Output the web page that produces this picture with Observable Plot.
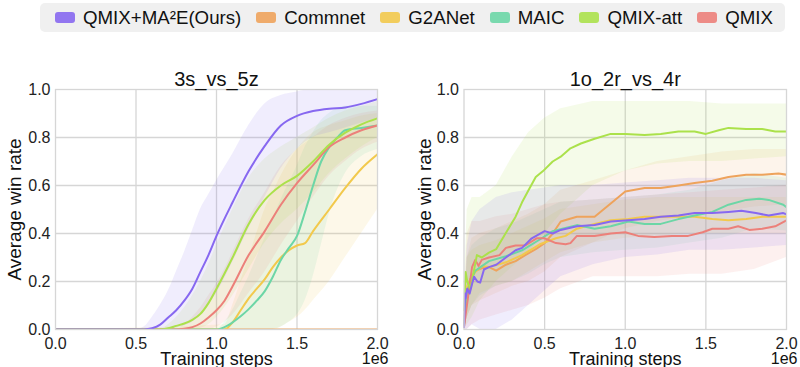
<!DOCTYPE html>
<html><head><meta charset="utf-8">
<script src="https://cdn.jsdelivr.net/npm/d3@7"></script>
<script src="https://cdn.jsdelivr.net/npm/@observablehq/plot@0.6"></script>
<style>
html,body{margin:0;padding:0;background:#fff;}
#wrap{position:relative;width:800px;height:367px;overflow:hidden;font-family:"Liberation Sans",Arial,sans-serif;}
#legend{position:absolute;left:40px;top:3px;width:745px;height:29px;background:#f0f0f0;border-radius:5px;display:flex;align-items:center;justify-content:space-between;box-sizing:border-box;padding-left:15px;padding-right:12px;font-size:18.7px;color:#111;white-space:nowrap;}
.item{display:flex;align-items:center;}
.sw{width:20px;height:11px;border-radius:3px;margin-right:8px;}
.panel{position:absolute;top:40px;}
.panel svg{overflow:visible;}
</style></head><body>
<div id="wrap"><div id="legend"></div><div id="p0" class="panel" style="left:0px"></div><div id="p1" class="panel" style="left:400px"></div></div>
<script>
// ---- legend / series ----
const seriesNames = ["QMIX+MA²E(Ours)", "Commnet", "G2ANet", "MAIC", "QMIX-att", "QMIX"];
const seriesColors = ["#8768f0", "#eea35c", "#f2c94c", "#6cd6a6", "#abe14b", "#ec807a"];
const drawOrder = ["Commnet", "G2ANet", "MAIC", "QMIX", "QMIX-att", "QMIX+MA²E(Ours)"];
const xTicks = [0, 0.5, 1.0, 1.5, 2.0];
const yTicks = [0, 0.2, 0.4, 0.6, 0.8, 1.0];
const panelTitles = ["3s_vs_5z", "1o_2r_vs_4r"];

// ---- 3s_vs_5z (steps in 1e6) ----
const s5z_ma2e_x    = [0, 0.5, 0.55, 0.6, 0.65, 0.7, 0.75, 0.8, 0.85, 0.9, 0.95, 1.0, 1.1, 1.2, 1.3, 1.4, 1.5, 1.6, 1.7, 1.8, 1.9, 2.0];
const s5z_ma2e_mean = [0, 0, 0, 0.005, 0.02, 0.05, 0.08, 0.12, 0.17, 0.24, 0.31, 0.39, 0.53, 0.66, 0.765, 0.85, 0.89, 0.91, 0.92, 0.925, 0.94, 0.96];
const s5z_ma2e_lo   = [0, 0, 0, 0, 0, 0, 0.005, 0.015, 0.03, 0.06, 0.1, 0.15, 0.28, 0.42, 0.55, 0.67, 0.75, 0.8, 0.82, 0.84, 0.86, 0.88];
const s5z_ma2e_hi   = [0, 0, 0.01, 0.05, 0.1, 0.16, 0.24, 0.32, 0.41, 0.5, 0.56, 0.62, 0.73, 0.85, 0.94, 0.975, 0.99, 1.0, 1.0, 1.0, 1.0, 1.0];

const s5z_att_x    = [0, 0.65, 0.7, 0.75, 0.8, 0.85, 0.9, 0.95, 1.0, 1.1, 1.2, 1.3, 1.4, 1.5, 1.6, 1.7, 1.8, 1.9, 2.0];
const s5z_att_mean = [0, 0, 0.005, 0.015, 0.025, 0.04, 0.065, 0.11, 0.17, 0.3, 0.44, 0.54, 0.6, 0.64, 0.7, 0.77, 0.82, 0.855, 0.88];
const s5z_att_lo   = [0, 0, 0, 0, 0, 0, 0.005, 0.02, 0.05, 0.14, 0.25, 0.36, 0.44, 0.5, 0.57, 0.65, 0.71, 0.76, 0.8];
const s5z_att_hi   = [0, 0, 0.02, 0.05, 0.09, 0.14, 0.2, 0.27, 0.35, 0.5, 0.63, 0.71, 0.76, 0.8, 0.84, 0.88, 0.91, 0.93, 0.95];

const s5z_qmix_x    = [0, 0.75, 0.8, 0.85, 0.9, 0.95, 1.0, 1.05, 1.1, 1.2, 1.3, 1.4, 1.5, 1.6, 1.7, 1.8, 1.9, 2.0];
const s5z_qmix_mean = [0, 0, 0.003, 0.01, 0.025, 0.05, 0.08, 0.12, 0.18, 0.31, 0.41, 0.52, 0.61, 0.685, 0.76, 0.8, 0.83, 0.85];
const s5z_qmix_lo   = [0, 0, 0, 0, 0, 0, 0.01, 0.03, 0.06, 0.15, 0.24, 0.35, 0.45, 0.55, 0.64, 0.7, 0.75, 0.78];
const s5z_qmix_hi   = [0, 0, 0.02, 0.05, 0.09, 0.14, 0.19, 0.25, 0.32, 0.46, 0.57, 0.68, 0.75, 0.8, 0.85, 0.88, 0.9, 0.91];

const s5z_maic_x    = [0, 1.0, 1.05, 1.1, 1.15, 1.2, 1.25, 1.3, 1.35, 1.4, 1.45, 1.5, 1.55, 1.6, 1.65, 1.7, 1.75, 1.8, 1.9, 2.0];
const s5z_maic_mean = [0, 0, 0.01, 0.03, 0.055, 0.085, 0.12, 0.16, 0.22, 0.29, 0.34, 0.39, 0.49, 0.6, 0.7, 0.76, 0.8, 0.83, 0.84, 0.85];
const s5z_maic_lo   = [0, 0, 0, 0, 0, 0, 0, 0, 0, 0.01, 0.03, 0.06, 0.12, 0.22, 0.35, 0.48, 0.58, 0.65, 0.72, 0.75];
const s5z_maic_hi   = [0, 0, 0.03, 0.08, 0.15, 0.22, 0.3, 0.38, 0.46, 0.54, 0.61, 0.68, 0.76, 0.82, 0.87, 0.9, 0.92, 0.93, 0.93, 0.93];

const s5z_g2a_x    = [0, 1.05, 1.1, 1.15, 1.2, 1.25, 1.3, 1.35, 1.4, 1.45, 1.5, 1.55, 1.6, 1.7, 1.8, 1.9, 2.0];
const s5z_g2a_mean = [0, 0, 0.03, 0.08, 0.13, 0.17, 0.21, 0.26, 0.3, 0.33, 0.35, 0.36, 0.41, 0.5, 0.59, 0.67, 0.73];
const s5z_g2a_lo   = [0, 0, 0, 0, 0, 0, 0, 0, 0.01, 0.03, 0.05, 0.08, 0.12, 0.2, 0.3, 0.4, 0.5];
const s5z_g2a_hi   = [0, 0.02, 0.1, 0.2, 0.3, 0.4, 0.5, 0.57, 0.64, 0.7, 0.75, 0.79, 0.82, 0.85, 0.87, 0.89, 0.9];

const s5z_comm_x    = [0, 2.0];
const s5z_comm_mean = [0, 0];
const s5z_comm_lo   = [0, 0];
const s5z_comm_hi   = [0, 0];

// ---- 1o_2r_vs_4r (steps in 1e6) ----
const r4_band_x = [0, 0.02, 0.05, 0.1, 0.2, 0.3, 0.4, 0.5, 0.6, 0.8, 1.0, 1.2, 1.4, 1.6, 1.8, 2.0];

const r4_ma2e_x    = [0, 0.003, 0.007, 0.01, 0.02, 0.035, 0.05, 0.062, 0.083, 0.1, 0.124, 0.155, 0.2, 0.26, 0.32, 0.36, 0.42, 0.5, 0.55, 0.6, 0.7, 0.81, 0.91, 1.02, 1.12, 1.22, 1.33, 1.43, 1.54, 1.64, 1.72, 1.81, 1.89, 1.98, 2.0];
const r4_ma2e_mean = [0.01, 0.08, 0.15, 0.13, 0.17, 0.15, 0.19, 0.22, 0.2, 0.195, 0.25, 0.26, 0.27, 0.3, 0.33, 0.34, 0.38, 0.41, 0.4, 0.415, 0.43, 0.435, 0.45, 0.455, 0.46, 0.47, 0.475, 0.485, 0.485, 0.49, 0.495, 0.485, 0.475, 0.485, 0.48];
const r4_ma2e_lo   = [0, 0, 0.02, 0, 0, 0.04, 0.1, 0.16, 0.22, 0.27, 0.3, 0.31, 0.33, 0.33, 0.34, 0.35];
const r4_ma2e_hi   = [0.05, 0.35, 0.45, 0.5, 0.55, 0.57, 0.58, 0.59, 0.6, 0.6, 0.61, 0.62, 0.63, 0.63, 0.63, 0.62];

const r4_att_x    = [0, 0.01, 0.02, 0.04, 0.06, 0.08, 0.11, 0.155, 0.2, 0.24, 0.28, 0.32, 0.36, 0.4, 0.445, 0.49, 0.55, 0.6, 0.66, 0.725, 0.81, 0.91, 1.0, 1.12, 1.22, 1.33, 1.43, 1.5, 1.58, 1.64, 1.75, 1.85, 1.93, 2.0];
const r4_att_mean = [0.08, 0.24, 0.2, 0.17, 0.24, 0.31, 0.3, 0.32, 0.335, 0.38, 0.425, 0.47, 0.53, 0.58, 0.635, 0.66, 0.7, 0.72, 0.755, 0.775, 0.795, 0.815, 0.815, 0.81, 0.815, 0.825, 0.825, 0.815, 0.83, 0.84, 0.835, 0.835, 0.825, 0.825];
const r4_att_lo   = [0, 0.02, 0.05, 0.12, 0.2, 0.26, 0.32, 0.4, 0.48, 0.6, 0.66, 0.69, 0.7, 0.7, 0.71, 0.72];
const r4_att_hi   = [0.15, 0.5, 0.55, 0.55, 0.6, 0.72, 0.82, 0.88, 0.92, 0.95, 0.95, 0.95, 0.95, 0.94, 0.94, 0.94];

const r4_comm_x    = [0, 0.01, 0.02, 0.04, 0.07, 0.11, 0.155, 0.2, 0.26, 0.32, 0.38, 0.445, 0.5, 0.55, 0.6, 0.7, 0.81, 0.91, 1.0, 1.12, 1.22, 1.33, 1.43, 1.54, 1.64, 1.75, 1.85, 1.95, 2.0];
const r4_comm_mean = [0.02, 0.1, 0.17, 0.21, 0.245, 0.255, 0.26, 0.245, 0.27, 0.285, 0.31, 0.335, 0.36, 0.4, 0.45, 0.47, 0.47, 0.525, 0.575, 0.59, 0.59, 0.6, 0.61, 0.62, 0.635, 0.645, 0.645, 0.65, 0.645];
const r4_comm_lo   = [0, 0.05, 0.1, 0.12, 0.15, 0.18, 0.2, 0.24, 0.3, 0.36, 0.42, 0.45, 0.47, 0.49, 0.51, 0.52];
const r4_comm_hi   = [0.05, 0.3, 0.38, 0.4, 0.42, 0.45, 0.48, 0.52, 0.58, 0.62, 0.66, 0.7, 0.72, 0.74, 0.75, 0.75];

const r4_maic_x    = [0, 0.01, 0.02, 0.04, 0.07, 0.155, 0.26, 0.36, 0.47, 0.55, 0.61, 0.7, 0.81, 0.91, 1.02, 1.12, 1.22, 1.33, 1.43, 1.54, 1.64, 1.75, 1.83, 1.89, 1.98, 2.0];
const r4_maic_mean = [0.02, 0.1, 0.16, 0.2, 0.245, 0.285, 0.305, 0.33, 0.375, 0.41, 0.42, 0.435, 0.42, 0.43, 0.45, 0.44, 0.44, 0.46, 0.475, 0.49, 0.52, 0.54, 0.545, 0.54, 0.52, 0.51];
const r4_maic_lo   = [0, 0.05, 0.1, 0.14, 0.18, 0.2, 0.23, 0.27, 0.3, 0.32, 0.33, 0.34, 0.36, 0.38, 0.42, 0.41];
const r4_maic_hi   = [0.05, 0.3, 0.35, 0.38, 0.42, 0.44, 0.47, 0.5, 0.53, 0.54, 0.55, 0.56, 0.58, 0.62, 0.65, 0.63];

const r4_g2a_x    = [0, 0.01, 0.02, 0.04, 0.07, 0.11, 0.155, 0.26, 0.36, 0.47, 0.57, 0.63, 0.7, 0.81, 0.91, 1.02, 1.12, 1.22, 1.33, 1.43, 1.54, 1.64, 1.75, 1.85, 2.0];
const r4_g2a_mean = [0.02, 0.12, 0.18, 0.21, 0.24, 0.265, 0.26, 0.28, 0.31, 0.355, 0.38, 0.39, 0.42, 0.44, 0.455, 0.46, 0.47, 0.47, 0.47, 0.47, 0.46, 0.455, 0.46, 0.47, 0.47];
const r4_g2a_lo   = [0, 0.05, 0.1, 0.15, 0.18, 0.2, 0.24, 0.28, 0.32, 0.36, 0.38, 0.39, 0.4, 0.4, 0.4, 0.4];
const r4_g2a_hi   = [0.05, 0.3, 0.33, 0.35, 0.37, 0.4, 0.43, 0.46, 0.5, 0.52, 0.54, 0.55, 0.55, 0.55, 0.55, 0.55];

const r4_qmix_x    = [0, 0.01, 0.03, 0.05, 0.07, 0.09, 0.11, 0.155, 0.22, 0.26, 0.32, 0.38, 0.45, 0.5, 0.57, 0.63, 0.66, 0.7, 0.81, 0.91, 1.0, 1.08, 1.18, 1.29, 1.39, 1.48, 1.54, 1.64, 1.7, 1.77, 1.85, 1.93, 2.0];
const r4_qmix_mean = [0.01, 0.06, 0.16, 0.26, 0.29, 0.265, 0.29, 0.3, 0.31, 0.34, 0.35, 0.35, 0.38, 0.38, 0.36, 0.355, 0.36, 0.39, 0.39, 0.4, 0.405, 0.39, 0.385, 0.39, 0.39, 0.405, 0.42, 0.42, 0.43, 0.415, 0.42, 0.43, 0.455];
const r4_qmix_lo   = [0, 0, 0.02, 0.04, 0.06, 0.08, 0.1, 0.13, 0.17, 0.22, 0.22, 0.22, 0.23, 0.23, 0.25, 0.3];
const r4_qmix_hi   = [0.05, 0.4, 0.45, 0.45, 0.47, 0.48, 0.5, 0.52, 0.53, 0.54, 0.55, 0.56, 0.57, 0.58, 0.59, 0.6];

// ---- assemble ----
const panels = [
  {title: panelTitles[0], curve: "monotone-x", series: {
    "QMIX+MA²E(Ours)": [s5z_ma2e_x, s5z_ma2e_mean, s5z_ma2e_x, s5z_ma2e_lo, s5z_ma2e_hi],
    "Commnet": [s5z_comm_x, s5z_comm_mean, s5z_comm_x, s5z_comm_lo, s5z_comm_hi],
    "G2ANet": [s5z_g2a_x, s5z_g2a_mean, s5z_g2a_x, s5z_g2a_lo, s5z_g2a_hi],
    "MAIC": [s5z_maic_x, s5z_maic_mean, s5z_maic_x, s5z_maic_lo, s5z_maic_hi],
    "QMIX-att": [s5z_att_x, s5z_att_mean, s5z_att_x, s5z_att_lo, s5z_att_hi],
    "QMIX": [s5z_qmix_x, s5z_qmix_mean, s5z_qmix_x, s5z_qmix_lo, s5z_qmix_hi]
  }},
  {title: panelTitles[1], curve: "linear", series: {
    "QMIX+MA²E(Ours)": [r4_ma2e_x, r4_ma2e_mean, r4_band_x, r4_ma2e_lo, r4_ma2e_hi],
    "Commnet": [r4_comm_x, r4_comm_mean, r4_band_x, r4_comm_lo, r4_comm_hi],
    "G2ANet": [r4_g2a_x, r4_g2a_mean, r4_band_x, r4_g2a_lo, r4_g2a_hi],
    "MAIC": [r4_maic_x, r4_maic_mean, r4_band_x, r4_maic_lo, r4_maic_hi],
    "QMIX-att": [r4_att_x, r4_att_mean, r4_band_x, r4_att_lo, r4_att_hi],
    "QMIX": [r4_qmix_x, r4_qmix_mean, r4_band_x, r4_qmix_lo, r4_qmix_hi]
  }}
];

// legend
const legend = d3.select("#legend");
seriesNames.forEach((n, i) => {
  const it = legend.append("div").attr("class", "item");
  it.append("div").attr("class", "sw").style("background", seriesColors[i]).style("opacity", 0.9);
  it.append("span").text(n);
});

const fmt = d3.format(".1f");
const FONT = '"Liberation Sans", Arial, sans-serif';

function makePanel(p, ml, mr, ylabDx) {
  const lines = [], bands = [];
  drawOrder.forEach(name => {
    const [x, m, bx, lo, hi] = p.series[name];
    x.forEach((v, i) => lines.push({series: name, x: v, y: m[i]}));
    bx.forEach((v, i) => bands.push({series: name, x: v, y1: lo[i], y2: hi[i]}));
  });
  return Plot.plot({
    width: 400, height: 327,
    marginTop: 49, marginBottom: 38, marginLeft: ml, marginRight: mr,
    style: {fontFamily: FONT, fontSize: "16px", color: "#222", background: "transparent", overflow: "visible"},
    x: {domain: [0, 2]},
    y: {domain: [0, 1]},
    color: {domain: seriesNames, range: seriesColors},
    marks: [
      Plot.gridX({ticks: xTicks.slice(1, -1), stroke: "#d6d6d6", strokeOpacity: 1, strokeWidth: 1.3}),
      Plot.gridY({ticks: yTicks.slice(1, -1), stroke: "#d6d6d6", strokeOpacity: 1, strokeWidth: 1.3}),
      Plot.areaY(bands, {x: "x", y1: "y1", y2: "y2", z: "series", fill: "series", fillOpacity: 0.12, curve: p.curve, clip: true}),
      Plot.lineY(lines, {x: "x", y: "y", z: "series", stroke: "series", strokeWidth: 2, curve: p.curve, clip: true}),
      Plot.frame({stroke: "#d6d6d6", strokeWidth: 1.3}),
      Plot.axisX({ticks: xTicks, tickFormat: fmt, tickSize: 0, tickPadding: 8, label: null, fontSize: 16}),
      Plot.axisY({ticks: yTicks, tickFormat: fmt, tickSize: 0, tickPadding: 5, label: null, fontSize: 16}),
      Plot.text([p.title], {text: d => d, frameAnchor: "top", lineAnchor: "top", dy: -18, fontSize: 20, fill: "#111"}),
      Plot.text(["Training steps"], {text: d => d, frameAnchor: "bottom", lineAnchor: "top", dy: 23, fontSize: 18, fill: "#111"}),
      Plot.text(["1e6"], {text: d => d, frameAnchor: "bottom-right", textAnchor: "end", lineAnchor: "top", dx: 11, dy: 23, fontSize: 16, fill: "#111"}),
      Plot.text(["Average win rate"], {text: d => d, frameAnchor: "left", rotate: -90, textAnchor: "middle", lineAnchor: "middle", dx: ylabDx, fontSize: 19, fill: "#111"})
    ]
  });
}

document.getElementById("p0").appendChild(makePanel(panels[0], 55, 23, -40.5));
document.getElementById("p1").appendChild(makePanel(panels[1], 63.5, 14, -39));
</script>
</body></html>
